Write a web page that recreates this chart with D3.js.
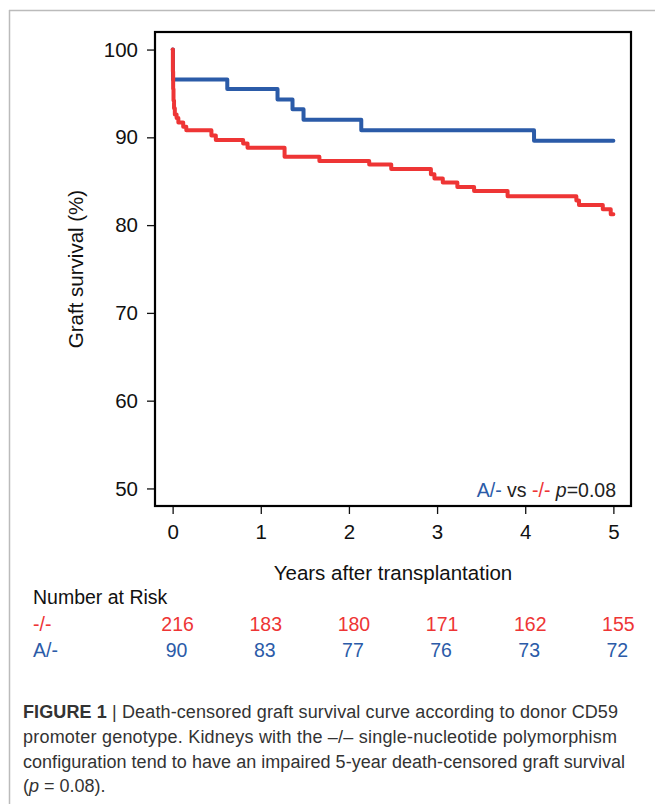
<!DOCTYPE html>
<html><head><meta charset="utf-8">
<script src="https://cdn.jsdelivr.net/npm/d3@7"></script>
<style>body{margin:0;background:#fff}svg{display:block}</style>
</head><body>
<script>
// ---- data ----
const years = [0, 1, 2, 3, 4, 5];
const yTicks = [50, 60, 70, 80, 90, 100];
const groups = ["-/-", "A/-"];
// step survival curves: [time (years), survival %]
const blueTimes = [0, 0.004, 0.62, 1.19, 1.36, 1.485, 2.14, 4.10, 5.0];
const blueSurv  = [100, 96.6, 95.5, 94.3, 93.2, 92.0, 90.8, 89.6, 89.6];
const redTimes = [0, 0.003, 0.006, 0.01, 0.016, 0.025, 0.045, 0.065, 0.12, 0.155, 0.44, 0.49, 0.80, 0.85, 1.27, 1.665, 2.23, 2.48, 2.93, 2.97, 3.065, 3.23, 3.42, 3.80, 4.58, 4.61, 4.88, 4.97, 5.0];
const redSurv  = [100, 97.5, 95.5, 94.2, 93.3, 92.6, 92.2, 91.7, 91.2, 90.8, 90.2, 89.7, 89.3, 88.8, 87.8, 87.3, 86.9, 86.4, 85.8, 85.3, 84.85, 84.35, 83.9, 83.3, 82.8, 82.3, 81.8, 81.25, 81.25];
const riskRed  = [216, 183, 180, 171, 162, 155];
const riskBlue = [90, 83, 77, 76, 73, 72];
const captionLines = [
  "Death-censored graft survival curve according to donor CD59",
  "promoter genotype. Kidneys with the \u2013/\u2013 single-nucleotide polymorphism",
  "configuration tend to have an impaired 5-year death-censored graft survival",
];

const W = 655, H = 804;
const RED = "#ee3535", BLUE = "#2b5ba8";
const FONT = "'Liberation Sans', Arial, Helvetica, sans-serif";
const svg = d3.select("body").append("svg").attr("width", W).attr("height", H)
  .style("font-family", FONT);

// frame lines
svg.append("line").attr("x1", 9).attr("x2", W).attr("y1", 10.5).attr("y2", 10.5).attr("stroke", "#bbb").attr("stroke-width", 1.5);
svg.append("line").attr("x1", 9.5).attr("x2", 9.5).attr("y1", 10).attr("y2", H).attr("stroke", "#bbb").attr("stroke-width", 1.5);

const L = 155, R = 631, T = 32, B = 506;
const x = d3.scaleLinear().domain([-0.2, 5.2]).range([L, R]);
const y = d3.scaleLinear().domain([48, 102]).range([B, T]);

// axes
const gx = svg.append("g").attr("transform", `translate(0,${B})`)
  .call(d3.axisBottom(x).tickValues(years).tickSize(8).tickPadding(10).tickFormat(d3.format("d")));
const gy = svg.append("g").attr("transform", `translate(${L},0)`)
  .call(d3.axisLeft(y).tickValues(yTicks).tickSize(8).tickPadding(9).tickFormat(d3.format("d")));
[gx, gy].forEach(g => {
  g.attr("font-size", null).attr("font-family", null);
  g.select(".domain").remove();
  g.selectAll(".tick line").attr("stroke", "#111").attr("stroke-width", 1.3);
  g.selectAll(".tick text").attr("fill", "#111").style("font-size", "20.5px").style("font-family", FONT);
});

// curves
const line = d3.line().curve(d3.curveStepAfter).x(d => x(d[0])).y(d => y(d[1]));
svg.append("path").datum(blueTimes.map((t, i) => [t, blueSurv[i]]))
  .attr("d", line).attr("fill", "none").attr("stroke", BLUE).attr("stroke-width", 4)
  .attr("stroke-linejoin", "round").attr("stroke-linecap", "round");
svg.append("path").datum(redTimes.map((t, i) => [t, redSurv[i]]))
  .attr("d", line).attr("fill", "none").attr("stroke", RED).attr("stroke-width", 4)
  .attr("stroke-linejoin", "round").attr("stroke-linecap", "round");

// box
svg.append("rect").attr("x", L).attr("y", T).attr("width", R - L).attr("height", B - T)
  .attr("fill", "none").attr("stroke", "#000").attr("stroke-width", 2.2);

// legend
const lg = svg.append("text").attr("x", 616).attr("y", 497).attr("text-anchor", "end")
  .style("font-size", "19.5px").attr("fill", "#222");
lg.append("tspan").attr("fill", BLUE).text("A/-");
lg.append("tspan").text(" vs ");
lg.append("tspan").attr("fill", RED).text("-/-");
lg.append("tspan").text(" ");
lg.append("tspan").style("font-style", "italic").text("p");
lg.append("tspan").text("=0.08");

// axis titles
svg.append("text").attr("x", (L + R) / 2).attr("y", 580).attr("text-anchor", "middle")
  .style("font-size", "20.5px").attr("fill", "#111").text("Years after transplantation");
svg.append("text").attr("transform", `translate(83,${(T + B) / 2}) rotate(-90)`).attr("text-anchor", "middle")
  .style("font-size", "20.5px").attr("fill", "#111").text("Graft survival (%)");

// number at risk
const RS = "19.5px";
svg.append("text").attr("x", 33).attr("y", 604).style("font-size", RS).attr("fill", "#111").text("Number at Risk");
svg.append("text").attr("x", 33).attr("y", 631).style("font-size", RS).attr("fill", RED).text(groups[0]);
svg.append("text").attr("x", 33).attr("y", 657).style("font-size", RS).attr("fill", BLUE).text(groups[1]);
svg.selectAll(".rr").data(riskRed).enter().append("text")
  .attr("x", (d, i) => x(years[i]) + 5).attr("y", 631).attr("text-anchor", "middle")
  .style("font-size", RS).attr("fill", RED).text(d => d);
svg.selectAll(".rb").data(riskBlue).enter().append("text")
  .attr("x", (d, i) => x(years[i]) + 4).attr("y", 657).attr("text-anchor", "middle")
  .style("font-size", RS).attr("fill", BLUE).text(d => d);

// caption
const cap = svg.append("g").style("font-size", "18px").attr("fill", "#333");
const l1 = cap.append("text").attr("x", 23).attr("y", 718).attr("textLength", 595).attr("lengthAdjust", "spacing");
l1.append("tspan").style("font-weight", "bold").text("FIGURE 1");
l1.append("tspan").text(" | " + captionLines[0]);
cap.append("text").attr("x", 23).attr("y", 743).attr("textLength", 594).attr("lengthAdjust", "spacing").text(captionLines[1]);
cap.append("text").attr("x", 23).attr("y", 768).attr("textLength", 602).attr("lengthAdjust", "spacing").text(captionLines[2]);
const l4 = cap.append("text").attr("x", 23).attr("y", 792);
l4.append("tspan").text("(");
l4.append("tspan").style("font-style", "italic").text("p");
l4.append("tspan").text(" = 0.08).");
</script>
</body></html>
